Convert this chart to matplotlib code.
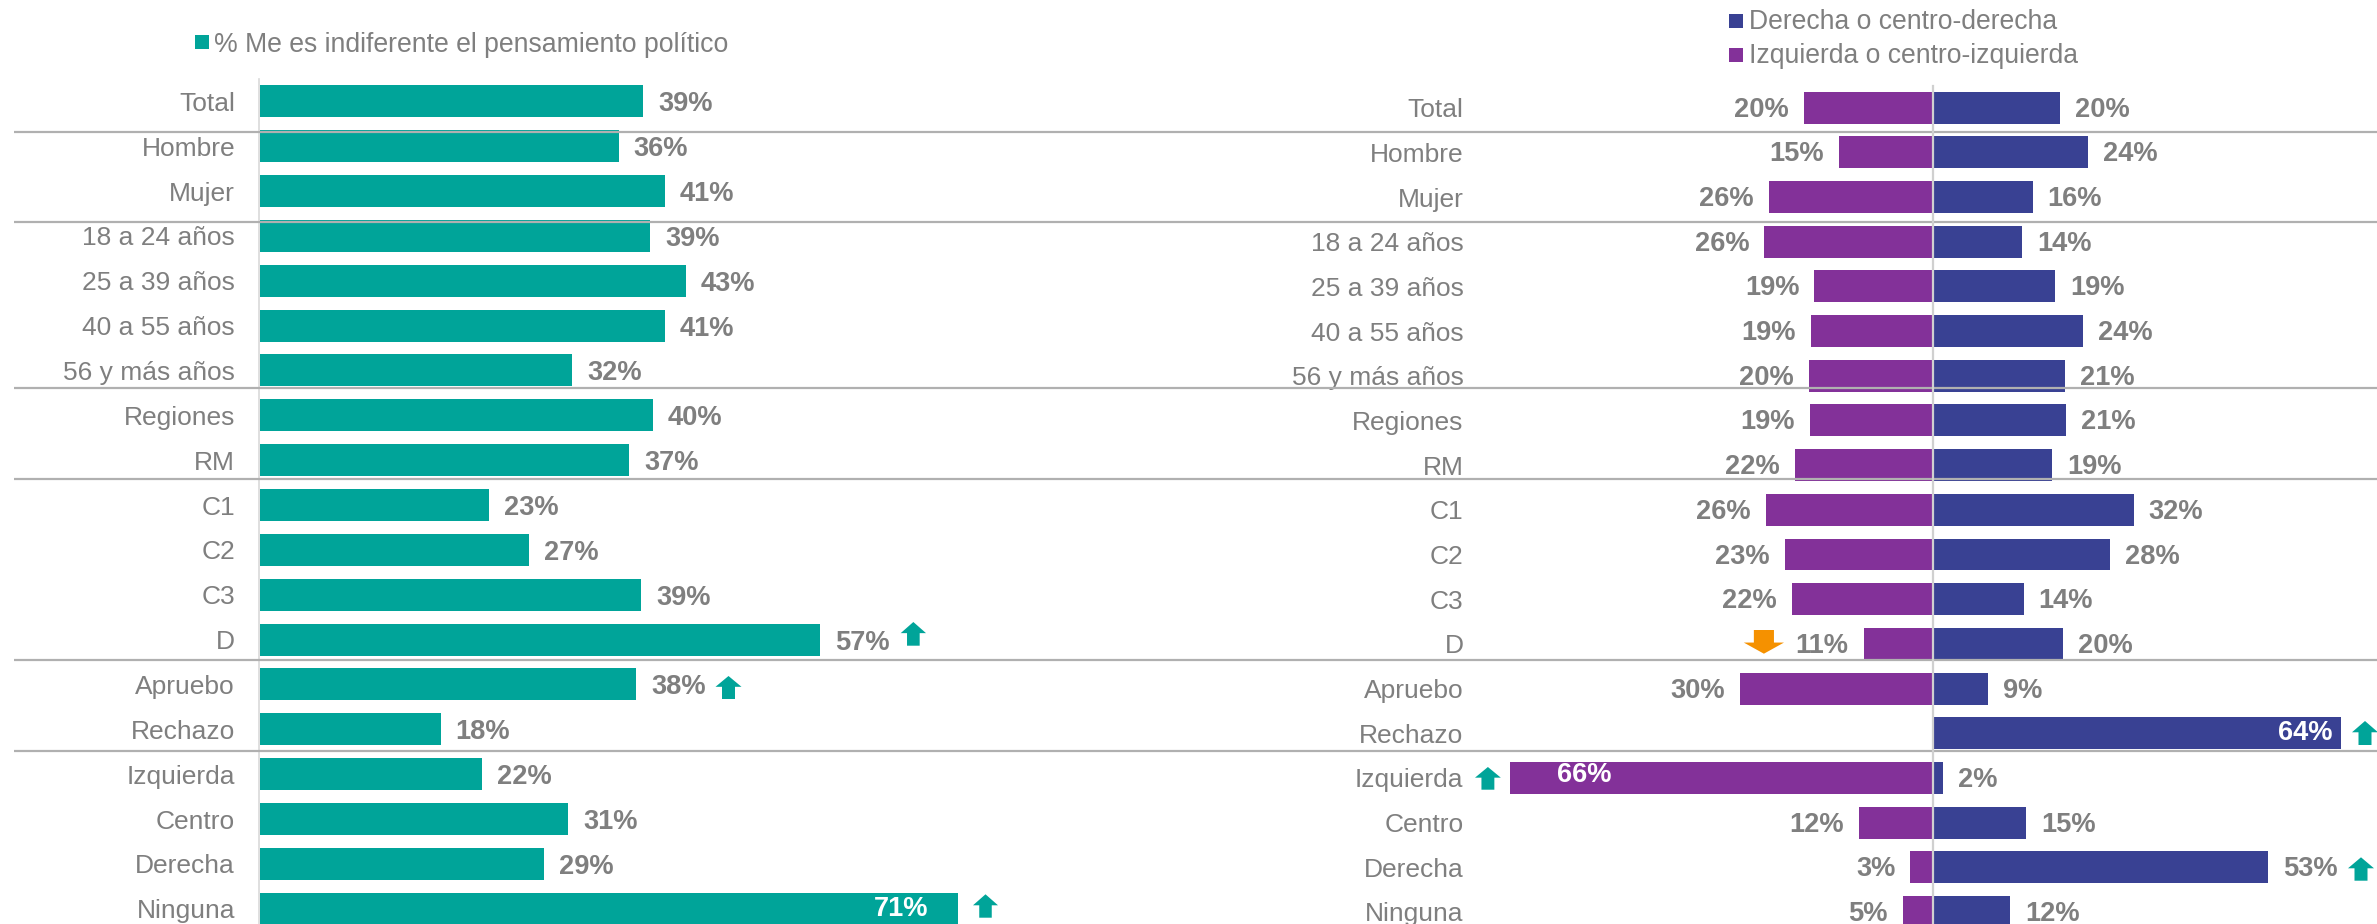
import matplotlib
matplotlib.use("Agg")
import matplotlib.pyplot as plt
from matplotlib.patches import Polygon, Rectangle

W, H = 2377, 924
plt.rcParams['font.family'] = ['Liberation Sans', 'DejaVu Sans']

# datos
categorias = ["Total", "Hombre", "Mujer", "18 a 24 años", "25 a 39 años", "40 a 55 años",
              "56 y más años", "Regiones", "RM", "C1", "C2", "C3", "D", "Apruebo", "Rechazo",
              "Izquierda", "Centro", "Derecha", "Ninguna"]
indiferente = [39.0, 36.5, 41.2, 39.7, 43.3, 41.2, 31.8, 40.0, 37.6, 23.3, 27.4, 38.8, 57.0,
               38.3, 18.4, 22.6, 31.4, 28.9, 71.0]
indiferente_txt = [39, 36, 41, 39, 43, 41, 32, 40, 37, 23, 27, 39, 57, 38, 18, 22, 31, 29, 71]
izquierda = [20.2, 14.6, 25.6, 26.3, 18.5, 19.0, 19.4, 19.2, 21.6, 26.1, 23.1, 22.0, 10.8,
             30.1, 0, 66.1, 11.6, 3.5, 4.7]
izquierda_txt = [20, 15, 26, 26, 19, 19, 20, 19, 22, 26, 23, 22, 11, 30, None, 66, 12, 3, 5]
derecha = [19.9, 24.3, 15.6, 13.9, 19.1, 23.5, 20.7, 20.8, 18.6, 31.4, 27.7, 14.2, 20.4,
           8.6, 63.8, 1.6, 14.6, 52.4, 12.1]
derecha_txt = [20, 24, 16, 14, 19, 24, 21, 21, 19, 32, 28, 14, 20, 9, 64, 2, 15, 53, 12]

TEAL = "#00A499"
PURPLE = "#833199"
NAVY = "#394193"
ORANGE = "#F59100"
GRAY = "#7F7F7F"
LINE = "#B0B0B0"
FS = 19
FS_VAL = 19.6

fig = plt.figure(figsize=(W / 100, H / 100), dpi=100)


def panel(x0, x_cero, x1, px_por_pct, y0, paso):
    # ejes que ocupan todo el alto, con la escala ajustada a pixeles
    ax = fig.add_axes([x0 / W, 0, (x1 - x0) / W, 1])
    ax.set_xlim((x0 - x_cero) / px_por_pct, (x1 - x_cero) / px_por_pct)
    ax.set_ylim((H - y0) / paso, (0 - y0) / paso)
    ax.patch.set_alpha(0)
    for s in ax.spines.values():
        s.set_visible(False)
    ax.set_xticks([])
    ax.set_yticks(range(len(categorias)))
    ax.set_yticklabels(categorias, fontsize=FS, color=GRAY)
    return ax


# panel izquierdo
PX_L = 9.84
ax1 = panel(259.5, 259.5, 1150, PX_L, 101.3, 44.86)
ax1.barh(range(len(categorias)), indiferente, height=0.713, color=TEAL, zorder=2)
ax1.tick_params(axis='y', length=0, pad=17.6)
for i, (v, t) in enumerate(zip(indiferente, indiferente_txt)):
    if t == 71:
        ax1.annotate(f"{t}%", (v, i), xytext=(-30, 0), textcoords='offset pixels', ha='right',
                     va='center', fontsize=FS_VAL, fontweight='bold', color='white', zorder=4)
    else:
        ax1.annotate(f"{t}%", (v, i), xytext=(15, -3), textcoords='offset pixels', ha='left',
                     va='center', fontsize=FS_VAL, fontweight='bold', color=GRAY, zorder=4)

# panel derecho
PX_R = 6.4
ax2 = panel(1463.5, 1932.8, W, PX_R, 107.8, 44.67)
pos = range(len(categorias))
ax2.barh(pos, [-v for v in izquierda], height=0.716, color=PURPLE, zorder=2)
ax2.barh(pos, derecha, height=0.716, color=NAVY, zorder=2)
ax2.tick_params(axis='y', length=0, pad=0)
for i, (v, t) in enumerate(zip(izquierda, izquierda_txt)):
    if t is None:
        continue
    if t == 66:
        ax2.annotate(f"{t}%", (-v, i), xytext=(47, 3), textcoords='offset pixels', ha='left',
                     va='center', fontsize=FS_VAL, fontweight='bold', color='white', zorder=4)
    else:
        ax2.annotate(f"{t}%", (-v, i), xytext=(-15, -2), textcoords='offset pixels', ha='right',
                     va='center', fontsize=FS_VAL, fontweight='bold', color=GRAY, zorder=4)
for i, (v, t) in enumerate(zip(derecha, derecha_txt)):
    if t == 64:
        ax2.annotate(f"{t}%", (v, i), xytext=(-9, 0), textcoords='offset pixels', ha='right',
                     va='center', fontsize=FS_VAL, fontweight='bold', color='white', zorder=4)
    else:
        ax2.annotate(f"{t}%", (v, i), xytext=(15, -2), textcoords='offset pixels', ha='left',
                     va='center', fontsize=FS_VAL, fontweight='bold', color=GRAY, zorder=4)

# capa en pixeles para lineas, leyendas y flechas
ov = fig.add_axes([0, 0, 1, 1], zorder=5)
ov.set_xlim(0, W)
ov.set_ylim(H, 0)
ov.axis('off')
ov.patch.set_alpha(0)

for y in [131.7, 221.7, 388.3, 479, 660.3, 751]:
    ov.plot([14, W], [y, y], color=LINE, lw=1.6, solid_capstyle='butt')
ov.plot([259, 259], [79, H], color="#D9D9D9", lw=1.2, zorder=1)
ov.plot([1933, 1933], [86, H], color="#D0D0D0", lw=1.6)


def flecha(x0, x1, y0, y1, color, abajo=False):
    cx = (x0 + x1) / 2
    a = (x1 - x0) * 0.25
    cab = (y1 - y0) * 0.47
    if abajo:
        y0, y1, cab = y1, y0, -cab
    pts = [(cx, y0), (x1, y0 + cab), (cx + a, y0 + cab), (cx + a, y1),
           (cx - a, y1), (cx - a, y0 + cab), (x0, y0 + cab)]
    ov.add_patch(Polygon(pts, closed=True, color=color, lw=0, zorder=6))


flecha(900.7, 926, 622, 645.7, TEAL)
flecha(715.5, 741.5, 676, 699, TEAL)
flecha(973, 998, 894.3, 917.7, TEAL)
flecha(1743.8, 1784, 630, 653.7, ORANGE, abajo=True)
flecha(2352, 2378, 721, 745, TEAL)
flecha(1475, 1500.8, 767, 789.7, TEAL)
flecha(2348, 2374, 857.3, 880.7, TEAL)

# leyendas
ov.add_patch(Rectangle((195, 35), 14, 14, color=TEAL, lw=0))
ov.text(214, 45, "% Me es indiferente el pensamiento político", fontsize=19.15, color=GRAY, va='center')
ov.add_patch(Rectangle((1728.7, 14), 14.3, 14, color=NAVY, lw=0))
ov.text(1749, 22, "Derecha o centro-derecha", fontsize=19.1, color=GRAY, va='center')
ov.add_patch(Rectangle((1728.7, 48), 14.3, 14, color=PURPLE, lw=0))
ov.text(1749, 56, "Izquierda o centro-izquierda", fontsize=19.1, color=GRAY, va='center')

fig.savefig("out.png", dpi=100)
